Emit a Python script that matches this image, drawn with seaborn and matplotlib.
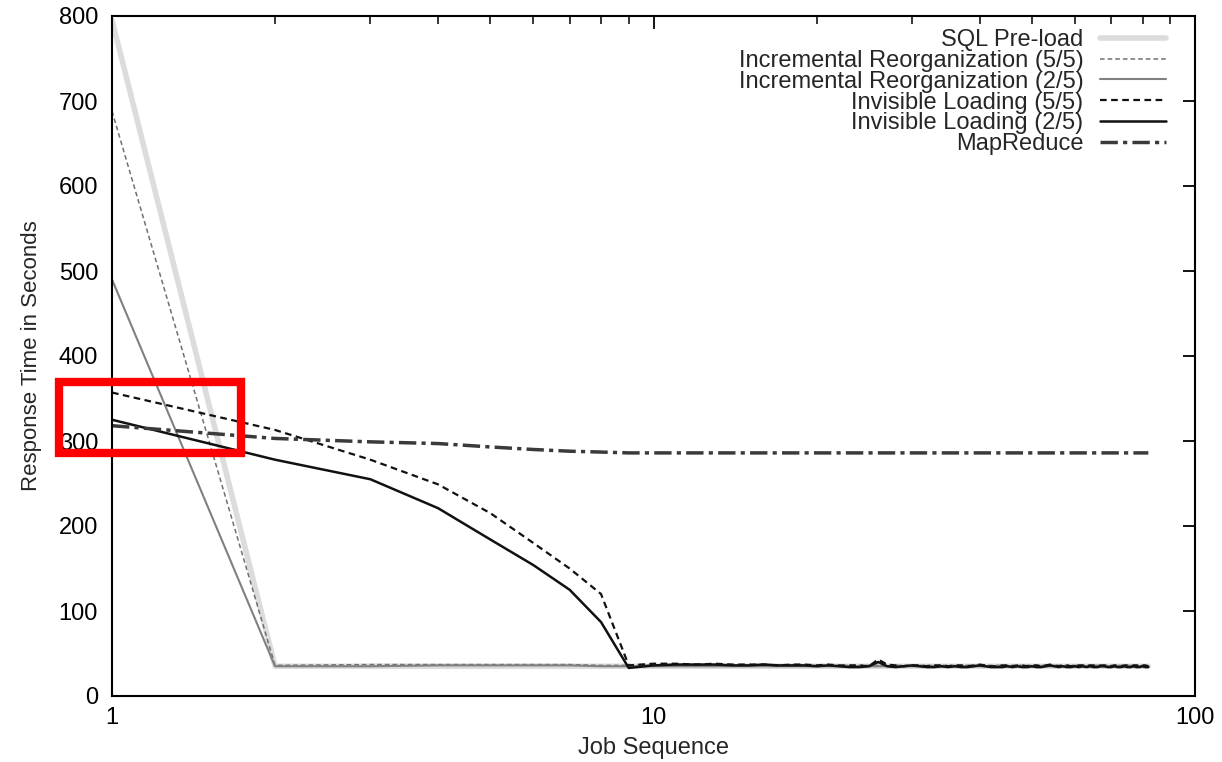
import matplotlib
matplotlib.use('Agg')
import matplotlib.pyplot as plt
import matplotlib.patches as patches
import seaborn as sns

# job number 1..82
jobs = list(range(1, 83))

sql_preload = [795] + [35] * 81

ir_55 = [688, 36, 37, 37, 37, 37, 37, 36, 36] + [36] * 73
ir_25 = [490, 35, 35, 36, 36, 36, 36, 35, 35] + [35] * 73

il_55_head = [357, 313, 278, 249, 215, 180, 150, 120, 36]
il_25_head = [325, 278, 255, 221, 184, 154, 125, 87, 33]

il_55_tail = [38, 38, 37, 38, 37, 37, 37, 36, 37, 37,
              36, 37, 36, 36, 36, 35, 43, 37, 36, 35,
              36, 36, 35, 36, 36, 35, 36, 36, 35, 36,
              37, 36, 35, 35, 36, 36, 35, 36, 36, 35,
              36, 36, 35, 36, 37, 36, 35, 36, 36, 35,
              36, 36, 36, 35, 36, 36, 35, 36, 36, 36,
              35, 36, 36, 35, 36, 36, 35, 36, 36, 35,
              36, 36, 35]
il_25_tail = [36, 37, 37, 37, 36, 36, 37, 36, 36, 36,
              35, 36, 35, 34, 34, 35, 40, 35, 34, 35,
              36, 35, 34, 34, 35, 34, 35, 34, 34, 35,
              36, 35, 34, 34, 34, 35, 34, 35, 34, 34,
              35, 34, 34, 35, 36, 35, 34, 35, 34, 34,
              35, 34, 35, 34, 35, 34, 34, 35, 35, 34,
              34, 35, 34, 34, 35, 34, 34, 35, 34, 34,
              35, 34, 34]
il_55 = il_55_head + il_55_tail
il_25 = il_25_head + il_25_tail

mapreduce = [318, 303, 299, 297, 293, 290, 288, 287, 286] + [286] * 73

series = [
    ('SQL Pre-load', sql_preload, '#dcdcdc', '-', 4.0),
    ('Incremental Reorganization (5/5)', ir_55, '#707070', (0, (3, 2)), 1.1),
    ('Incremental Reorganization (2/5)', ir_25, '#808080', '-', 1.5),
    ('Invisible Loading (5/5)', il_55, '#111111', (0, (3, 2)), 1.6),
    ('Invisible Loading (2/5)', il_25, '#111111', '-', 1.8),
    ('MapReduce', mapreduce, '#3a3a3a', (0, (5, 1.5, 1.2, 1.5)), 2.5),
]

sns.set_style('white')
plt.rcParams['font.family'] = ['Liberation Sans', 'DejaVu Sans']

fig = plt.figure(figsize=(12.22, 7.62), dpi=100)
ax = fig.add_axes([112 / 1222, 1 - 696 / 762, (1195 - 112) / 1222, (696 - 16) / 762])

for name, vals, col, ls, lw in series:
    sns.lineplot(x=jobs, y=vals, ax=ax, color=col, linestyle=ls, linewidth=lw, label=name)

ax.set_xscale('log')
ax.set_xlim(1, 100)
ax.set_ylim(0, 800)
ax.set_yticks(range(0, 801, 100))
ax.set_xticks([1, 10, 100])
ax.set_xticklabels(['1', '10', '100'])

for s in ax.spines.values():
    s.set_color('black')
    s.set_linewidth(1.5)
ax.tick_params(which='both', direction='in', top=True, right=True, colors='black', labelsize=17)
ax.tick_params(which='major', length=9, width=1.3)
ax.tick_params(which='minor', length=6, width=1.1)
ax.tick_params(axis='x', which='major', pad=8)
ax.tick_params(axis='y', which='major', pad=10)

ax.set_xlabel('Job Sequence', fontsize=17, labelpad=6)
ax.set_ylabel('Response Time in Seconds', fontsize=16, labelpad=12)

leg = ax.legend(loc='upper right', frameon=False, markerfirst=False, fontsize=17,
                handlelength=2.8, labelspacing=-0.05, handletextpad=0.7,
                bbox_to_anchor=(0.993, 1.012))

# red highlight box (added to the screenshot)
fig.patches.append(patches.Rectangle((59 / 1222, 1 - 453 / 762), (241 - 59) / 1222, (453 - 382) / 762,
                                     transform=fig.transFigure, fill=False,
                                     edgecolor='#ff0000', linewidth=6, zorder=10))

fig.savefig('out.png', dpi=100)
